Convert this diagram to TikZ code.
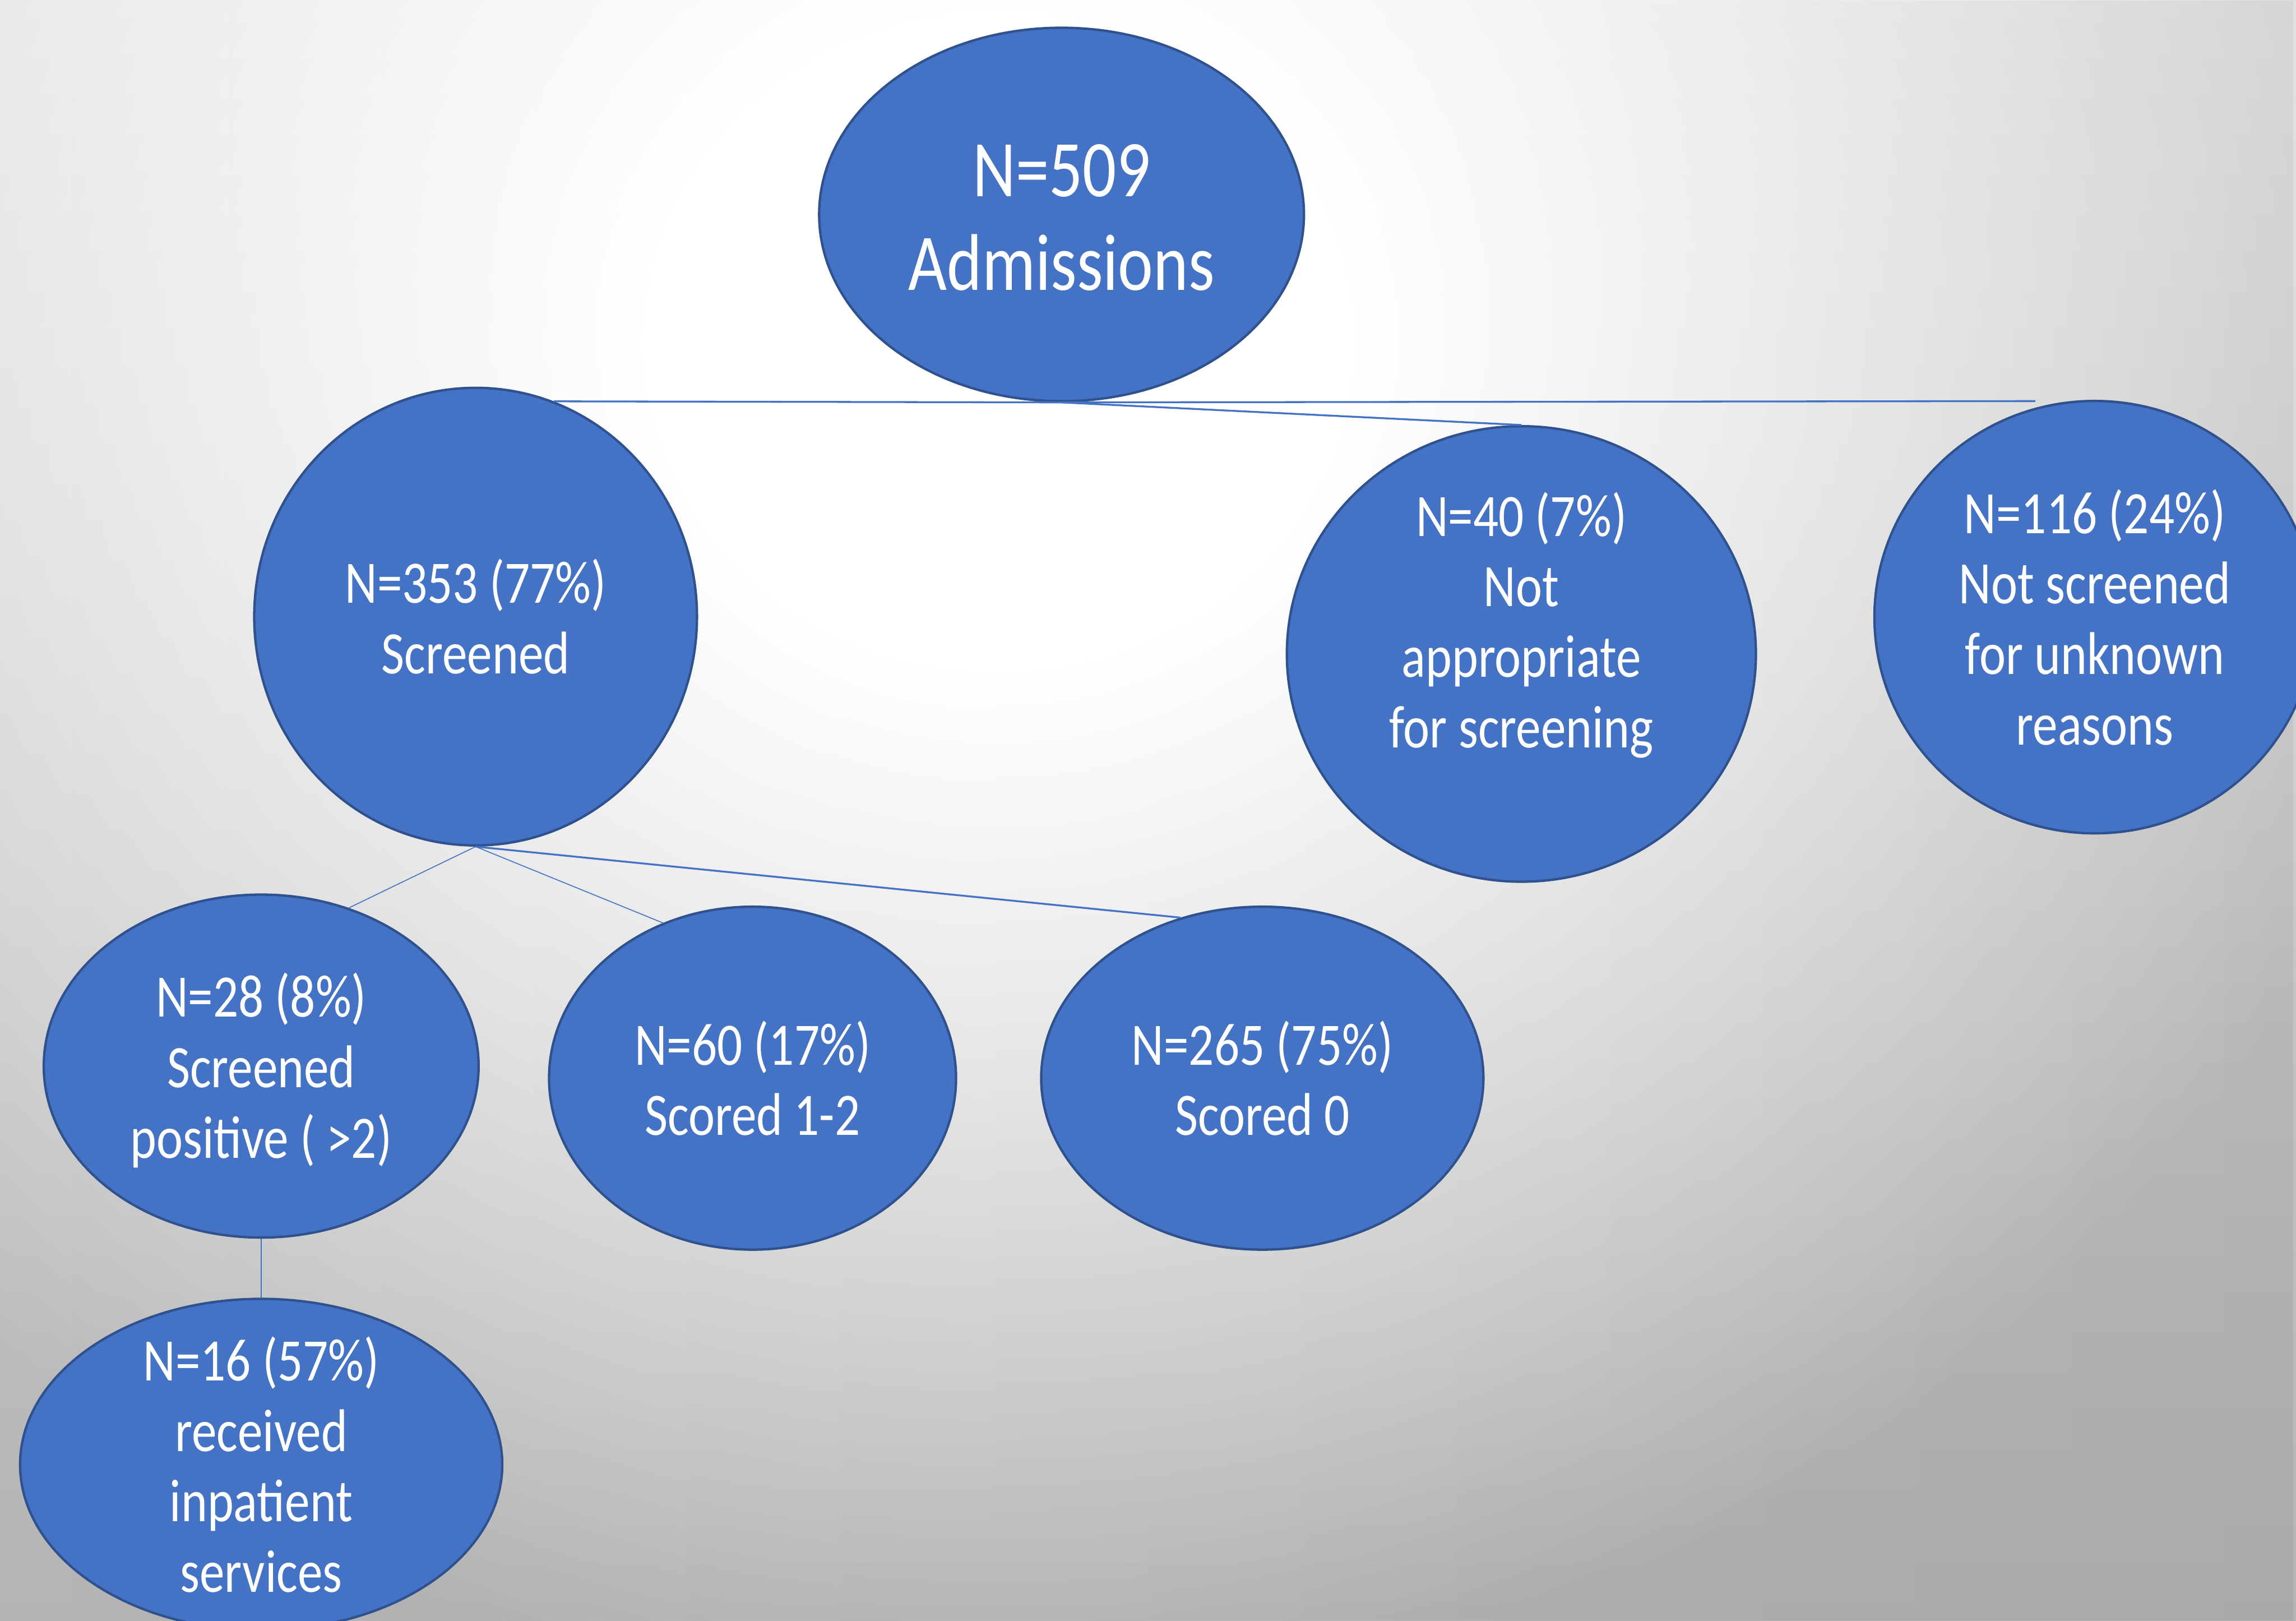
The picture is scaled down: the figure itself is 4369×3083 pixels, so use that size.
\documentclass[tikz,border=0pt]{standalone}
\usepackage{fontspec}
\setmainfont{Carlito}[FakeStretch=0.83]
\usetikzlibrary{shapes.geometric,fadings}
\definecolor{bubfill}{HTML}{4472C4}
\definecolor{bubline}{HTML}{2F528F}
\definecolor{conncol}{HTML}{4472C4}
\definecolor{bgT}{HTML}{DEDEDE}
\definecolor{bgB}{HTML}{B4B4B4}
\pgfdeclareradialshading{spotshade}{\pgfpointorigin}{color(0bp)=(white); color(6bp)=(white); color(25bp)=(black); color(50bp)=(black)}
\pgfdeclarefading{spotfade}{\pgfuseshading{spotshade}}
\tikzfading[name=toright, left color=transparent!100, right color=transparent!0]
\begin{document}
\begin{tikzpicture}[x=0.01cm,y=-0.01cm,
  bub/.style={ellipse, draw=bubline, line width=1.3pt, fill=bubfill, inner sep=0pt},
  txt/.style={text=white, align=center, font=\fontsize{32.6}{38.1}\selectfont, inner sep=0pt},
  bigtxt/.style={text=white, align=center, font=\fontsize{43.5}{50.6}\selectfont, inner sep=0pt},
  connA/.style={draw=conncol, line width=1pt},
  connB/.style={draw=conncol, line width=0.5pt}]

% background
\path[use as bounding box] (0,0) rectangle (4369,3083);
\shade[top color=bgT, bottom color=bgB] (0,0) rectangle (4369,3083);
\fill[black, opacity=0.06, path fading=toright] (0,0) rectangle (4369,3083);
\begin{scope}
  \clip (0,0) rectangle (4369,3083);
  \fill[white, path fading=spotfade] (1900,650) ellipse [x radius=28cm, y radius=26cm];
\end{scope}

% nodes
\node[bub, minimum width=9.22cm, minimum height=7.1cm] (top) at (2020,408) {};
\node[bigtxt] (toptxt) at ([yshift=-0.06cm]top.center) {N=509\\Admissions};

\node[bub, minimum width=8.42cm, minimum height=8.7cm] (scr) at (905,1173) {};
\node[txt] (scrtxt) at (scr.center) {N=353 (77\%)\\Screened};

\node[bub, minimum width=8.92cm, minimum height=8.66cm] (n40) at (2895,1244) {};
\node[txt] (n40txt) at ([yshift=0.55cm]n40.center) {N=40 (7\%)\\Not\\appropriate\\for screening};

\node[bub, minimum width=8.38cm, minimum height=8.22cm] (n116) at (3986,1174) {};
\node[txt] (n116txt) at (n116.center) {N=116 (24\%)\\Not screened\\for unknown\\reasons};

\node[bub, minimum width=8.27cm, minimum height=6.52cm] (n28) at (497,2028) {};
\node[txt] (n28txt) at ([yshift=-0.08cm]n28.center) {N=28 (8\%)\\Screened\\positive ( >2)};

\node[bub, minimum width=7.74cm, minimum height=6.52cm] (n60) at (1432,2051) {};
\node[txt] (n60txt) at (n60.center) {N=60 (17\%)\\Scored 1-2};

\node[bub, minimum width=8.41cm, minimum height=6.52cm] (n265) at (2402,2051) {};
\node[txt] (n265txt) at (n265.center) {N=265 (75\%)\\Scored 0};

\node[bub, minimum width=9.17cm, minimum height=6.3cm] (n16) at (497,2786) {};
\node[txt] (n16txt) at (n16.center) {N=16 (57\%)\\received\\inpatient\\services};

% connectors
\coordinate (hR) at (3873,763);
\draw[connA] (scr.70.8) -- (top.south) -- (hR);
\draw[connA] (top.south) -- (n40.north);
\draw[connB] (scr.south) -- (n28.61.6);
\draw[connB] (scr.south) -- (n60.120);
\draw[connA] (scr.south) -- (n265.117.2);
\draw[connB] (n28.south) -- (n16.north);
\end{tikzpicture}
\end{document}
